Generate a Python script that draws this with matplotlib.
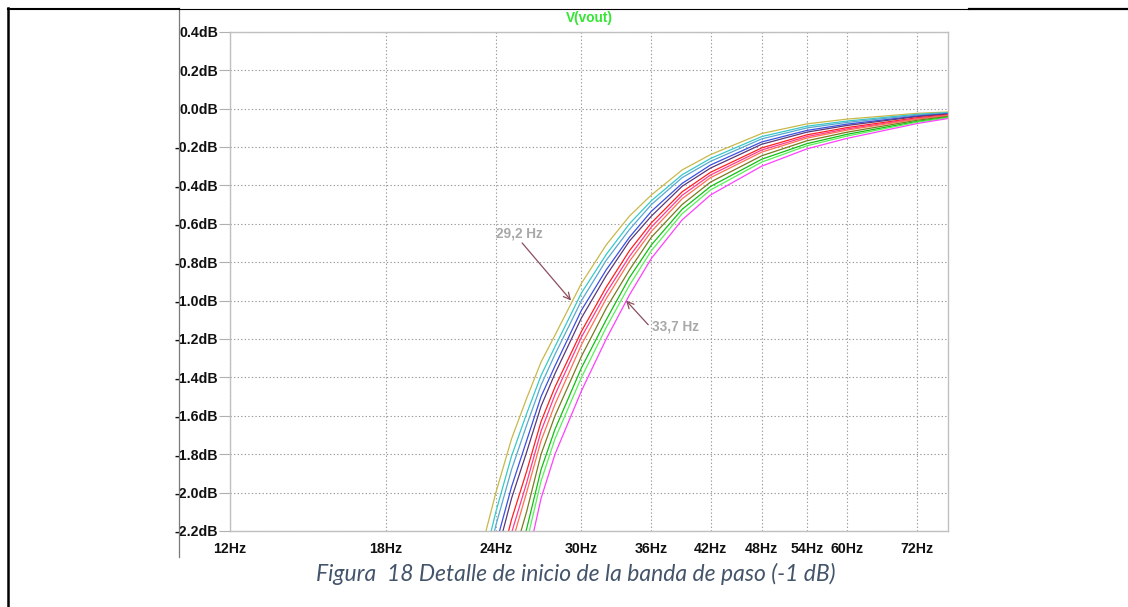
import matplotlib

matplotlib.use("Agg")
import matplotlib.pyplot as plt
from matplotlib.lines import Line2D
from matplotlib.ticker import FixedLocator, NullLocator

plt.rcParams["font.family"] = ["Liberation Sans", "DejaVu Sans"]

# frequency grid (Hz) shared by all .step traces
FREQ_HZ = [23, 24, 25, 26, 27, 28, 30, 32, 34, 36, 39, 42, 48, 54, 60, 72, 78]

# V(vout) in dB (leftmost trace first)
TRACE_YELLOW = [-2.33, -2.00, -1.72, -1.51, -1.32, -1.18, -0.91, -0.71, -0.56, -0.45, -0.32, -0.24, -0.13, -0.08, -0.055, -0.025, -0.018]
TRACE_CYAN = [-2.45, -2.10, -1.81, -1.59, -1.39, -1.24, -0.96, -0.76, -0.60, -0.48, -0.345, -0.26, -0.146, -0.092, -0.065, -0.030, -0.021]
TRACE_TEAL = [-2.54, -2.17, -1.88, -1.65, -1.44, -1.28, -1.00, -0.79, -0.63, -0.50, -0.36, -0.275, -0.158, -0.101, -0.072, -0.034, -0.024]
TRACE_BLUE = [-2.66, -2.27, -1.97, -1.73, -1.50, -1.34, -1.05, -0.84, -0.67, -0.535, -0.39, -0.294, -0.174, -0.114, -0.081, -0.039, -0.027]
TRACE_PURPLE = [-2.75, -2.34, -2.03, -1.79, -1.55, -1.38, -1.09, -0.87, -0.69, -0.56, -0.405, -0.31, -0.186, -0.123, -0.088, -0.042, -0.029]
TRACE_RED = [-2.89, -2.46, -2.14, -1.89, -1.63, -1.45, -1.16, -0.93, -0.74, -0.595, -0.434, -0.332, -0.205, -0.137, -0.099, -0.048, -0.033]
TRACE_PINK = [-2.97, -2.53, -2.21, -1.95, -1.68, -1.49, -1.19, -0.96, -0.77, -0.617, -0.452, -0.346, -0.216, -0.146, -0.106, -0.052, -0.035]
TRACE_ORANGE = [-3.06, -2.60, -2.27, -2.00, -1.73, -1.54, -1.23, -0.99, -0.795, -0.64, -0.47, -0.36, -0.227, -0.154, -0.112, -0.055, -0.037]
TRACE_OLIVE = [-3.19, -2.71, -2.37, -2.10, -1.80, -1.60, -1.29, -1.04, -0.84, -0.67, -0.50, -0.383, -0.246, -0.168, -0.123, -0.061, -0.041]
TRACE_GREEN = [-3.33, -2.83, -2.48, -2.19, -1.88, -1.67, -1.35, -1.10, -0.88, -0.71, -0.525, -0.406, -0.264, -0.183, -0.134, -0.067, -0.045]
TRACE_LIGHTGREEN = [-3.44, -2.92, -2.56, -2.26, -1.94, -1.72, -1.40, -1.14, -0.92, -0.74, -0.548, -0.424, -0.279, -0.194, -0.143, -0.071, -0.048]
TRACE_MAGENTA = [-3.60, -3.05, -2.68, -2.37, -2.03, -1.80, -1.47, -1.20, -0.97, -0.78, -0.58, -0.45, -0.30, -0.21, -0.155, -0.078, -0.052]

TRACES = [TRACE_YELLOW, TRACE_CYAN, TRACE_TEAL, TRACE_BLUE, TRACE_PURPLE, TRACE_RED,
          TRACE_PINK, TRACE_ORANGE, TRACE_OLIVE, TRACE_GREEN, TRACE_LIGHTGREEN, TRACE_MAGENTA]
TRACE_COLORS = ["#c8b84a", "#38c8c8", "#58a8d0", "#3a50e0", "#5a3a78", "#ff2020",
                "#ff3a90", "#ff7050", "#7a7a20", "#10c010", "#58f058", "#ff40ff"]

X_TICKS = [12, 18, 24, 30, 36, 42, 48, 54, 60, 72]
Y_TICKS = [-2.2, -2.0, -1.8, -1.6, -1.4, -1.2, -1.0, -0.8, -0.6, -0.4, -0.2, 0.0, 0.2, 0.4]

# cursor annotations: (label, text position, arrow tail, arrow tip)
MARKERS = [
    ("29,2 Hz", (24.0, -0.65), (25.7, -0.70), (29.2, -1.0)),
    ("33,7 Hz", (36.1, -1.135), (35.7, -1.126), (33.7, -1.0)),
]

CAPTION = "Figura  18 Detalle de inicio de la banda de paso (-1 dB)"

W, H = 1128, 607


def fx(x):
    return x / W


def fy(y):
    return 1 - y / H


fig = plt.figure(figsize=(W / 100, H / 100), dpi=100)
fig.patch.set_facecolor("white")

ax = fig.add_axes([fx(230), fy(531), (948 - 230) / W, (531 - 31.7) / H])

for vals, color in zip(TRACES, TRACE_COLORS):
    ax.plot(FREQ_HZ, vals, color=color, linewidth=0.9)

ax.set_xscale("log")
ax.set_xlim(12, 78)
ax.set_ylim(-2.2, 0.4)

ax.xaxis.set_major_locator(FixedLocator(X_TICKS))
ax.xaxis.set_minor_locator(NullLocator())
ax.set_xticklabels([f"{v}Hz" for v in X_TICKS])
ax.set_yticks(Y_TICKS)
ax.set_yticklabels([f"{v:.1f}dB" for v in Y_TICKS])

ax.tick_params(axis="x", length=0, pad=8, labelsize=10.2, colors="#111111")
ax.tick_params(axis="y", length=8, width=0.8, color="#b0b0b0", pad=0.5, labelsize=10.2, labelcolor="#111111")
for lab in ax.get_xticklabels() + ax.get_yticklabels():
    lab.set_fontweight("bold")

ax.grid(True, which="major", color="#9a9a9a", linestyle=(0, (1.2, 2.0)), linewidth=0.8)
for sp in ax.spines.values():
    sp.set_color("#c0c0c0")
    sp.set_linewidth(1.0)

ax.set_title("V(vout)", color="#33e633", fontsize=9.8, fontweight="bold", pad=7)

for label, txt_pos, tail, tip in MARKERS:
    ax.annotate("", xy=tip, xytext=tail,
                arrowprops=dict(arrowstyle="->", color="#8c4e5e", lw=0.9,
                                mutation_scale=12, shrinkA=0, shrinkB=0))
    ax.text(txt_pos[0], txt_pos[1], label, color="#a8a8a8", fontsize=9.8,
            fontweight="bold", ha="left", va="center")

# LTspice window edge and the document frame around the figure
fig.add_artist(Line2D([fx(179.5), fx(179.5)], [fy(8), fy(557)], color="#7a7a7a", linewidth=0.9))
fig.add_artist(Line2D([fx(7.5), fx(7.5)], [fy(8), fy(607)], color="black", linewidth=1.8))
fig.add_artist(Line2D([fx(7.5), fx(179.5)], [fy(8.5), fy(8.5)], color="black", linewidth=1.5))
fig.add_artist(Line2D([fx(179.5), fx(969)], [fy(8.5), fy(8.5)], color="black", linewidth=0.8))
fig.add_artist(Line2D([fx(969), fx(1128)], [fy(8.8), fy(8.8)], color="black", linewidth=1.6))

fig.text(fx(575.5), fy(581), CAPTION, family=["Lato", "DejaVu Sans"], style="italic",
         fontsize=16.5, color="#44546a", ha="center", va="baseline")

fig.savefig("out.png", dpi=100, facecolor="white")
